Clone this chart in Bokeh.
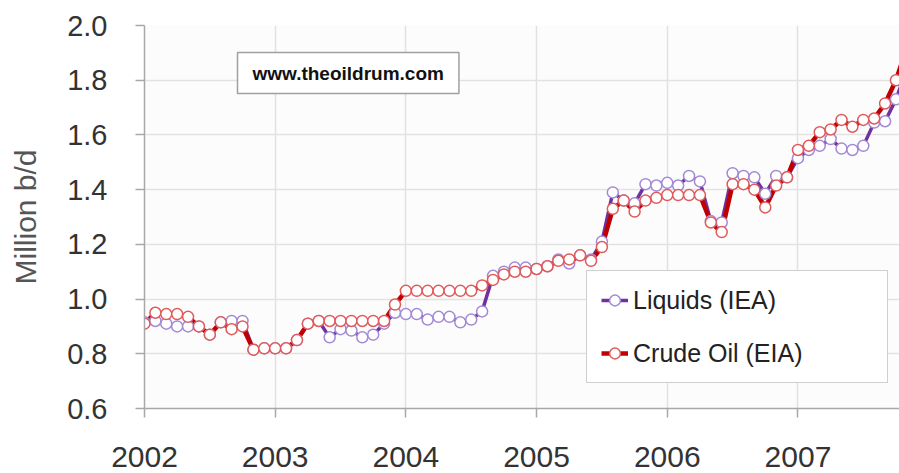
from bokeh.plotting import figure
from bokeh.models import (Range1d, FixedTicker, Legend, LegendItem, Label,
                          NumeralTickFormatter, ColumnDataSource)
from bokeh.embed import file_html
from bokeh.resources import INLINE

# Monthly data, Jan 2002 onward (million b/d)
month_index = list(range(71))
liquids_iea = [0.915, 0.92, 0.91, 0.90, 0.90, 0.90, 0.87, 0.915, 0.92, 0.92, 0.815, 0.82,
               0.82, 0.82, 0.85, 0.91, 0.92, 0.86, 0.89, 0.885, 0.86, 0.87, 0.91, 0.95,
               0.945, 0.945, 0.925, 0.935, 0.935, 0.915, 0.925, 0.955, 1.085, 1.10, 1.115, 1.115,
               1.11, 1.12, 1.145, 1.13, 1.16, 1.145, 1.21, 1.39, 1.36, 1.35, 1.42, 1.415,
               1.425, 1.415, 1.45, 1.43, 1.285, 1.28, 1.46, 1.45, 1.445, 1.385, 1.45, 1.445,
               1.515, 1.545, 1.56, 1.585, 1.55, 1.545, 1.56, 1.645, 1.65, 1.73, 1.84]
crude_eia = [0.91, 0.95, 0.945, 0.945, 0.935, 0.90, 0.87, 0.915, 0.89, 0.90, 0.815, 0.82,
             0.82, 0.82, 0.85, 0.91, 0.92, 0.92, 0.92, 0.92, 0.92, 0.92, 0.92, 0.98,
             1.03, 1.03, 1.03, 1.03, 1.03, 1.03, 1.03, 1.05, 1.07, 1.09, 1.10, 1.10,
             1.11, 1.12, 1.14, 1.145, 1.16, 1.14, 1.19, 1.33, 1.36, 1.32, 1.36, 1.37,
             1.38, 1.38, 1.38, 1.38, 1.28, 1.245, 1.42, 1.42, 1.40, 1.335, 1.415, 1.445,
             1.545, 1.56, 1.61, 1.62, 1.655, 1.63, 1.655, 1.66, 1.715, 1.80, 1.92]
year_ticks = [2002, 2003, 2004, 2005, 2006, 2007]
y_ticks = [0.6, 0.8, 1.0, 1.2, 1.4, 1.6, 1.8, 2.0]

x_years = [2002 + m / 12.0 for m in month_index]
src = ColumnDataSource(dict(x=x_years, liq=liquids_iea, crude=crude_eia))

p = figure(width=899, height=473, output_backend="svg", toolbar_location=None,
           x_range=Range1d(2002, 2007.777), y_range=Range1d(0.6, 2.0),
           min_border_left=144, min_border_right=0, min_border_top=25, min_border_bottom=65)
p.background_fill_color = "#fcfcfc"
p.border_fill_color = "white"
p.outline_line_color = None

p.xaxis.ticker = FixedTicker(ticks=year_ticks)
p.yaxis.ticker = FixedTicker(ticks=y_ticks)
p.yaxis.formatter = NumeralTickFormatter(format="0.0")
for ax in (p.xaxis[0], p.yaxis[0]):
    ax.axis_line_color = "#a8a8a8"
    ax.axis_line_width = 1.5
    ax.major_tick_line_color = "#a8a8a8"
    ax.major_tick_line_width = 1.5
    ax.major_tick_out = 9
    ax.major_tick_in = 0
    ax.minor_tick_line_color = None
    ax.major_label_text_font = "Liberation Sans"
    ax.major_label_text_color = "#333333"
p.xaxis.major_label_text_font_size = "30px"
p.yaxis.major_label_text_font_size = "29px"
p.xaxis.major_label_standoff = 29
p.yaxis.major_label_standoff = 28
p.yaxis.axis_label = "Million b/d"
p.yaxis.axis_label_text_font = "Liberation Sans"
p.yaxis.axis_label_text_font_size = "30px"
p.yaxis.axis_label_text_font_style = "normal"
p.yaxis.axis_label_text_color = "#555555"
p.yaxis.axis_label_standoff = 22

p.xgrid.grid_line_color = "#e2e2e2"
p.ygrid.grid_line_color = "#e2e2e2"
p.xgrid.grid_line_width = 1.5
p.ygrid.grid_line_width = 1.5

pl = p.line("x", "liq", source=src, line_color="#7030a0", line_width=3.5)
cl = p.line("x", "crude", source=src, line_color="#c00000", line_width=4.5)
ps = p.scatter("x", "liq", source=src, marker="circle", size=11, fill_color="white",
               line_color="#a38ad6", line_width=1.5)
cs = p.scatter("x", "crude", source=src, marker="circle", size=11, fill_color="white",
               line_color="#e05a5a", line_width=1.5)

legend = Legend(items=[LegendItem(label="Liquids (IEA)", renderers=[pl, ps]),
                       LegendItem(label="Crude Oil (EIA)", renderers=[cl, cs])],
                location=(442, 25))
legend.label_text_font = "Liberation Sans"
legend.label_text_font_size = "25px"
legend.label_text_color = "#222222"
legend.glyph_width = 27
legend.glyph_height = 30
legend.label_height = 30
legend.label_width = 240
legend.label_standoff = 5
legend.spacing = 23
legend.padding = 14
legend.margin = 0
legend.border_line_color = "#a0a0a0"
legend.border_line_width = 1.5
legend.background_fill_color = "white"
legend.background_fill_alpha = 1
p.add_layout(legend, "center")

site = Label(x=93, y=356, x_units="screen", y_units="screen", text="www.theoildrum.com",
             text_font="Liberation Sans", text_font_style="bold", text_font_size="19px",
             text_color="#111111", text_align="left", text_baseline="top",
             border_line_color="#a0a0a0", border_line_width=1.5,
             background_fill_color="white", padding=(15, 10))
p.add_layout(site)

open("out.html", "w").write(file_html(p, INLINE))
